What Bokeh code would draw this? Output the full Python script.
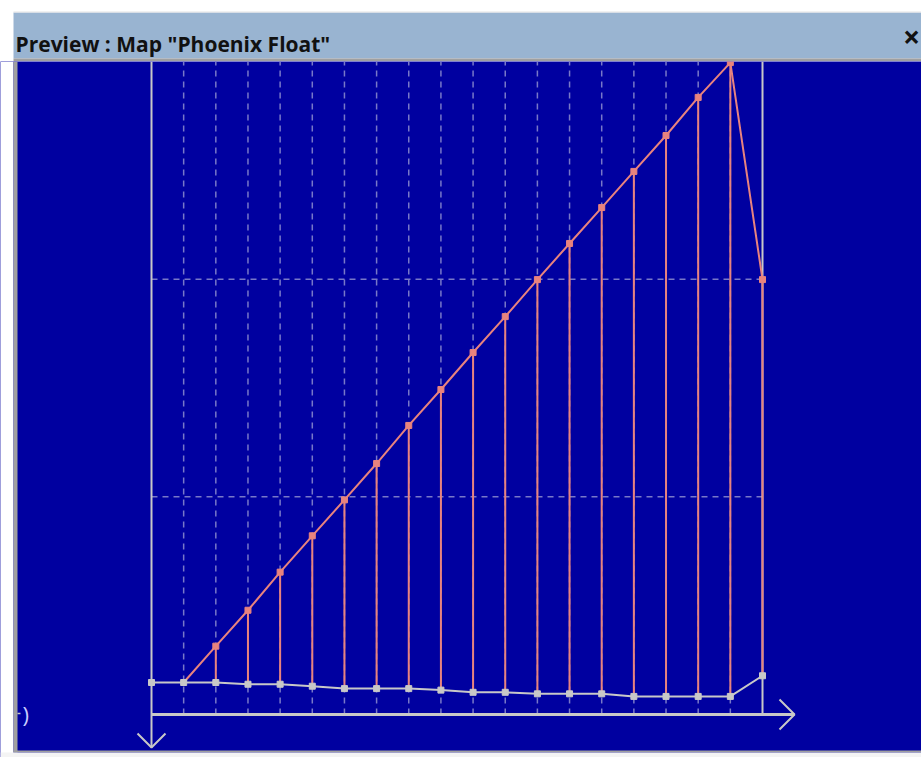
from bokeh.plotting import figure
from bokeh.layouts import column
from bokeh.models import Range1d, ColumnDataSource, Label
from bokeh.embed import file_html
from bokeh.resources import INLINE

# ---------------- data ----------------
points = list(range(20))
base_values = [14.7, 14.7, 14.7, 13.9, 13.9, 13.0, 11.9, 11.9, 11.9, 11.2,
               10.2, 10.2, 9.5, 9.5, 9.5, 8.3, 8.3, 8.3, 8.3, 17.8]
map_values = [float("nan"), 14.7, 31.4, 47.9, 65.4, 82.1, 98.6, 115.3, 132.8, 149.3,
              166.3, 182.8, 199.8, 216.4, 232.9, 249.5, 266.0, 283.5, 299.5, 199.8]
y_grid = [100, 200]
y_max = 300
title_text = 'Preview : Map "Phoenix Float"'
side_label = ")"

# ---------------- styling / layout ----------------
BLUE = "#0000A0"
BAR = "#99B4D1"
FRAME_GRAY = "#A0A0A0"
AXIS_GRAY = "#C8C8C8"
GRID = "#7878C8"
SALMON = "#E8837E"
FONT = "Open Sans"

X0_PX, X19_PX = 151.0, 762.0
STEP_PX = (X19_PX - X0_PX) / 19.0
Y0_PX, YTOP_PX = 714.0, 61.0
PPU = (Y0_PX - YTOP_PX) / y_max

def dx(px):
    return (px - X0_PX) / STEP_PX

def dy(py):
    return (Y0_PX - py) / PPU

W = 921
TITLE_H = 61
CHART_H = 757 - TITLE_H

# ---------------- title bar ----------------
t = figure(width=W, height=TITLE_H, x_range=Range1d(0, W), y_range=Range1d(TITLE_H, 0),
           output_backend="svg", toolbar_location=None, min_border=0,
           x_axis_location=None, y_axis_location=None,
           background_fill_color="white", border_fill_color="white",
           outline_line_color=None)
t.xgrid.visible = False
t.ygrid.visible = False
t.quad(left=[13], right=[W], top=[12], bottom=[58], fill_color=BAR, line_color=None)
t.quad(left=[13], right=[W], top=[11], bottom=[12], fill_color="#E4E4E4", line_color=None)
t.quad(left=[13], right=[W], top=[58], bottom=[61], fill_color=FRAME_GRAY, line_color=None)
t.add_layout(Label(x=15, y=43, text=title_text, text_font=FONT, text_font_style="bold",
                   text_font_size="21px", text_color="#111111", text_baseline="alphabetic"))
t.add_layout(Label(x=911, y=36, text="\u00d7", text_font=FONT, text_font_style="bold",
                   text_font_size="30px", text_color="#111111", text_baseline="middle",
                   text_align="center"))

# ---------------- chart ----------------
p = figure(width=W, height=CHART_H,
           x_range=Range1d(dx(0), dx(W)), y_range=Range1d(dy(757), dy(TITLE_H)),
           output_backend="svg", toolbar_location=None, min_border=0,
           x_axis_location=None, y_axis_location=None,
           background_fill_color=BLUE, border_fill_color=BLUE,
           outline_line_color=None)
p.xgrid.visible = False
p.ygrid.visible = False

# window frame
p.quad(left=[dx(0)], right=[dx(13)], top=[dy(61)], bottom=[dy(757)], fill_color="white", line_color=None)
p.quad(left=[dx(13)], right=[dx(17)], top=[dy(61)], bottom=[dy(752)], fill_color=FRAME_GRAY, line_color=None)
p.quad(left=[dx(13)], right=[dx(W)], top=[dy(750)], bottom=[dy(752)], fill_color=FRAME_GRAY, line_color=None)
p.quad(left=[dx(0)], right=[dx(W)], top=[dy(752)], bottom=[dy(757)], fill_color="#F4F4F4", line_color=None)

# dashed grid
inner = points[1:-1]
p.segment(x0=inner, y0=[0] * len(inner), x1=inner, y1=[y_max] * len(inner),
          line_color=GRID, line_width=1.5, line_dash="6 5")
p.segment(x0=[points[0]] * len(y_grid), y0=y_grid, x1=[points[-1]] * len(y_grid), y1=y_grid,
          line_color=GRID, line_width=1.5, line_dash="6 5")

# axes
x_end = dx(794)
y_end = dy(747)
p.line(x=[points[0], x_end], y=[0, 0], line_color=AXIS_GRAY, line_width=3)
p.line(x=[points[0], points[0]], y=[y_max, y_end], line_color=AXIS_GRAY, line_width=2)
p.line(x=[points[-1], points[-1]], y=[0, y_max], line_color=AXIS_GRAY, line_width=2)
# arrow heads
p.multi_line(xs=[[dx(779), x_end, dx(779)], [points[0] - 14 / STEP_PX, points[0], points[0] + 14 / STEP_PX]],
             ys=[[15 / PPU, 0, -15 / PPU], [y_end + 14 / PPU, y_end, y_end + 14 / PPU]],
             line_color=AXIS_GRAY, line_width=2)

src = ColumnDataSource(dict(x=points, base=base_values, val=map_values))
stem_src = ColumnDataSource(dict(x=points[2:], base=base_values[2:], val=map_values[2:]))

p.segment(x0="x", y0="base", x1="x", y1="val", source=stem_src, line_color=SALMON, line_width=2)
p.line(x="x", y="val", source=src, line_color=SALMON, line_width=2)
p.scatter(x="x", y="val", source=stem_src, marker="square", size=6, fill_color=SALMON, line_color=SALMON)
p.line(x="x", y="base", source=src, line_color=AXIS_GRAY, line_width=2)
p.scatter(x="x", y="base", source=src, marker="square", size=6, fill_color=AXIS_GRAY, line_color=AXIS_GRAY)

p.line(x=[dx(17), dx(20)], y=[dy(713), dy(713)], line_color=AXIS_GRAY, line_width=1.5)
p.add_layout(Label(x=dx(22), y=dy(713), text=side_label, text_font=FONT, text_font_size="22px",
                   text_color="#C8CCFF", text_baseline="middle"))

layout = column(t, p, spacing=0)
open("out.html", "w").write(file_html(layout, INLINE))
